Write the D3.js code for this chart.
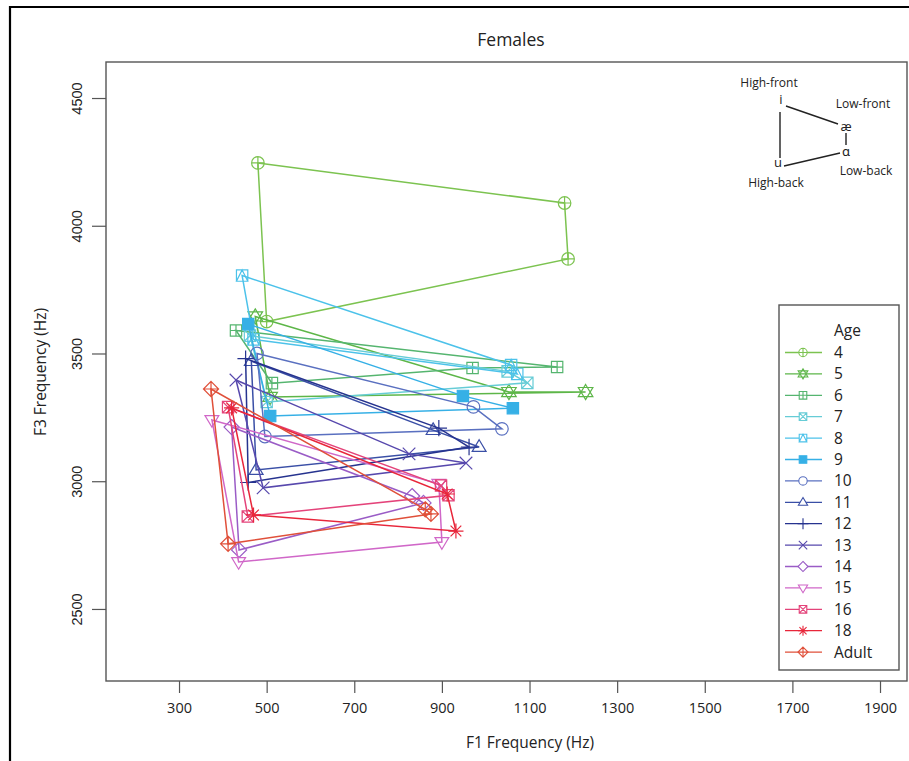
<!DOCTYPE html>
<html>
<head>
<meta charset="utf-8">
<script src="https://cdn.jsdelivr.net/npm/d3@7"></script>
<style>
  body { margin: 0; background: #fff; }
  svg { display: block; font-family: "Open Sans", "Noto Sans", sans-serif; }
</style>
</head>
<body>
<div id="chart"></div>
<script>
// Age groups, plotted oldest on top
const ages = ["4", "5", "6", "7", "8", "9", "10", "11", "12", "13", "14", "15", "16", "18", "Adult"];
const ageColors = ["#7cc350", "#5db648", "#55b56f", "#66ccd6", "#4cc2ea", "#36b0e6", "#5a70c0", "#3a4fa6",
                   "#26338f", "#5748ad", "#9a5cc6", "#d067c8", "#e4437a", "#e8263a", "#e0503a"];
const ageSymbols = ["circlePlus", "hexagram", "squarePlus", "squareX", "squareTri", "squareFilled", "circle",
                    "triangle", "plus", "cross", "diamond", "triangleDown", "squareX", "asterisk", "diamondPlus"];

// Corner vowels, in the order the quadrilateral is traced
const vowels = ["i", "æ", "ɑ", "u"];

// F1 (Hz) per age for each vowel
const f1_i  = [480, 474, 430, 462, 444, 458, 478, 465, 452, 430, 420, 375, 412, 420, 373];
const f1_ae = [1180, 1053, 1163, 1050, 1058, 948, 972, 880, 893, 825, 832, 893, 898, 912, 862];
const f1_a  = [1188, 1228, 970, 1095, 1072, 1062, 1037, 985, 962, 955, 858, 900, 915, 932, 875];
const f1_u  = [500, 508, 512, 500, 470, 508, 496, 476, 458, 492, 437, 436, 457, 470, 412];

// F3 (Hz) per age for each vowel
const f3_i  = [4246, 3645, 3590, 3570, 3805, 3615, 3500, 3470, 3480, 3396, 3212, 3240, 3290, 3287, 3361];
const f3_ae = [4089, 3349, 3447, 3430, 3455, 3334, 3291, 3200, 3208, 3107, 2942, 2990, 2983, 2950, 2890];
const f3_a  = [3870, 3349, 3443, 3385, 3420, 3286, 3205, 3134, 3134, 3071, 2915, 2762, 2945, 2805, 2872];
const f3_u  = [3625, 3330, 3384, 3310, 3555, 3255, 3175, 3044, 2995, 2974, 2731, 2684, 2862, 2868, 2755];

const xTicks = [300, 500, 700, 900, 1100, 1300, 1500, 1700, 1900];
const yTicks = [2500, 3000, 3500, 4000, 4500];

const W = 909, H = 761;
const plot = { left: 106, right: 907, top: 62, bottom: 681 };

const svg = d3.select("#chart").append("svg").attr("width", W).attr("height", H);

// outer frame
svg.append("path")
  .attr("d", `M10,${H} V7 H${W}`)
  .attr("fill", "none").attr("stroke", "#000").attr("stroke-width", 2.2);

const x = d3.scaleLinear().domain([133.3, 1961.6]).range([plot.left, plot.right]);
const y = d3.scaleLinear().domain([2218, 4641]).range([plot.bottom, plot.top]);

// plot box
svg.append("rect")
  .attr("x", plot.left).attr("y", plot.top)
  .attr("width", plot.right - plot.left).attr("height", plot.bottom - plot.top)
  .attr("fill", "none").attr("stroke", "#555").attr("stroke-width", 1.4);

// axes
const xAxis = svg.append("g").attr("transform", `translate(0,${plot.bottom})`)
  .call(d3.axisBottom(x).tickValues(xTicks).tickSize(12).tickPadding(10).tickFormat(d3.format("d")));
xAxis.select(".domain").remove();
xAxis.selectAll("line").attr("stroke", "#555").attr("stroke-width", 1.2);
xAxis.selectAll("text").attr("font-size", 14.5).attr("fill", "#222")
  .attr("font-family", "'Open Sans', sans-serif");

const yAxis = svg.append("g").attr("transform", `translate(${plot.left},0)`)
  .call(d3.axisLeft(y).tickValues(yTicks).tickSize(14).tickFormat(d3.format("d")));
yAxis.select(".domain").remove();
yAxis.selectAll("line").attr("stroke", "#555").attr("stroke-width", 1.2);
yAxis.selectAll("text")
  .attr("font-size", 14.5).attr("fill", "#222")
  .attr("text-anchor", "middle").attr("dy", null).attr("x", null)
  .attr("transform", "translate(-29,0) rotate(-90)")
  .attr("dominant-baseline", "central");

// titles
svg.append("text").attr("x", 511).attr("y", 46).attr("text-anchor", "middle")
  .attr("font-size", 17.5).attr("fill", "#222").text("Females");
svg.append("text").attr("x", 530).attr("y", 748).attr("text-anchor", "middle")
  .attr("font-size", 15.5).attr("fill", "#222").text("F1 Frequency (Hz)");
svg.append("text").attr("transform", "translate(40,372) rotate(-90)").attr("text-anchor", "middle")
  .attr("dominant-baseline", "central")
  .attr("font-size", 15.5).attr("fill", "#222").text("F3 Frequency (Hz)");

// symbol drawing in the style of R plotting characters
function symbolPath(kind, r) {
  const p = d3.path();
  const sq = r * 0.9;
  const circle = rr => { p.moveTo(rr, 0); p.arc(0, 0, rr, 0, 2 * Math.PI); };
  const square = s => { p.rect(-s, -s, 2 * s, 2 * s); };
  const seg = (x1, y1, x2, y2) => { p.moveTo(x1, y1); p.lineTo(x2, y2); };
  const tri = (s, dir) => {
    const h = s * 1.15;
    p.moveTo(0, -dir * h); p.lineTo(s * 1.1, dir * h * 0.6); p.lineTo(-s * 1.1, dir * h * 0.6); p.closePath();
  };
  const diamond = s => { p.moveTo(0, -s); p.lineTo(s, 0); p.lineTo(0, s); p.lineTo(-s, 0); p.closePath(); };
  switch (kind) {
    case "circlePlus": circle(r); seg(-r, 0, r, 0); seg(0, -r, 0, r); break;
    case "hexagram": tri(r * 1.05, 1); tri(r * 1.05, -1); break;
    case "squarePlus": square(sq); seg(-sq, 0, sq, 0); seg(0, -sq, 0, sq); break;
    case "squareX": square(sq); seg(-sq, -sq, sq, sq); seg(-sq, sq, sq, -sq); break;
    case "squareTri": square(sq); p.moveTo(0, -sq); p.lineTo(sq, sq); p.lineTo(-sq, sq); p.closePath(); break;
    case "squareFilled": square(sq); break;
    case "circle": circle(r); break;
    case "triangle": tri(r, 1); break;
    case "triangleDown": tri(r, -1); break;
    case "plus": seg(-r * 1.3, 0, r * 1.3, 0); seg(0, -r * 1.3, 0, r * 1.3); break;
    case "cross": seg(-r, -r, r, r); seg(-r, r, r, -r); break;
    case "asterisk":
      seg(-r * 1.2, 0, r * 1.2, 0); seg(0, -r * 1.2, 0, r * 1.2);
      seg(-r * 0.85, -r * 0.85, r * 0.85, r * 0.85); seg(-r * 0.85, r * 0.85, r * 0.85, -r * 0.85); break;
    case "diamond": diamond(r * 1.2); break;
    case "diamondPlus": diamond(r * 1.2); seg(-r * 1.2, 0, r * 1.2, 0); seg(0, -r * 1.2, 0, r * 1.2); break;
  }
  return p.toString();
}

// build one quadrilateral per age
const groups = ages.map((age, k) => ({
  age, color: ageColors[k], symbol: ageSymbols[k],
  points: [
    { v: vowels[0], f1: f1_i[k], f3: f3_i[k] },
    { v: vowels[1], f1: f1_ae[k], f3: f3_ae[k] },
    { v: vowels[2], f1: f1_a[k], f3: f3_a[k] },
    { v: vowels[3], f1: f1_u[k], f3: f3_u[k] }
  ]
}));

const line = d3.line().x(d => x(d.f1)).y(d => y(d.f3)).curve(d3.curveLinearClosed);

const series = svg.append("g").selectAll("g").data(groups).join("g");
series.append("path")
  .attr("d", d => line(d.points))
  .attr("fill", "none").attr("stroke", d => d.color).attr("stroke-width", 1.5);
series.selectAll("path.pt").data(d => d.points.map(p => ({ ...p, g: d }))).join("path")
  .attr("class", "pt")
  .attr("transform", d => `translate(${x(d.f1)},${y(d.f3)})`)
  .attr("d", d => symbolPath(d.g.symbol, 6.3))
  .attr("fill", d => d.g.symbol === "squareFilled" ? d.g.color : "none")
  .attr("stroke", d => d.g.color).attr("stroke-width", 1.2);

// legend
const leg = { x0: 779, y0: 305, x1: 899, y1: 670, rowTop: 352.5, rowStep: 21.4 };
svg.append("rect").attr("x", leg.x0).attr("y", leg.y0)
  .attr("width", leg.x1 - leg.x0).attr("height", leg.y1 - leg.y0)
  .attr("fill", "#fff").attr("stroke", "#555").attr("stroke-width", 1.4);
svg.append("text").attr("x", 834).attr("y", 336).attr("font-size", 15.5).attr("fill", "#222").text("Age");
const rows = svg.append("g").selectAll("g").data(groups).join("g")
  .attr("transform", (d, k) => `translate(0,${leg.rowTop + k * leg.rowStep})`);
rows.append("line").attr("x1", 785).attr("x2", 822).attr("stroke", d => d.color).attr("stroke-width", 1.3);
rows.append("path").attr("transform", "translate(803,0)")
  .attr("d", d => symbolPath(d.symbol, 4.2))
  .attr("fill", d => d.symbol === "squareFilled" ? d.color : "#fff")
  .attr("stroke", d => d.color).attr("stroke-width", 1.1);
rows.append("text").attr("x", 834).attr("dy", "0.36em").attr("font-size", 15.5).attr("fill", "#222")
  .text(d => d.age);

// vowel-space key (top right)
const key = svg.append("g").attr("fill", "#222").attr("font-size", 12);
const keyPts = { i: [781, 104], ae: [846, 127], a: [846, 152], u: [778, 163] };
key.append("path")
  .attr("d", `M786,106 L838,124 M846,133 L846,145 M840,153 L784,166 M780,158 L780,112`)
  .attr("stroke", "#222").attr("stroke-width", 1.4).attr("fill", "none");
key.append("text").attr("x", 769).attr("y", 87).attr("text-anchor", "middle").text("High-front");
key.append("text").attr("x", keyPts.i[0]).attr("y", keyPts.i[1]).attr("text-anchor", "middle").attr("font-size", 13).text("i");
key.append("text").attr("x", 863).attr("y", 108).attr("text-anchor", "middle").text("Low-front");
key.append("text").attr("x", keyPts.ae[0]).attr("y", keyPts.ae[1] + 4).attr("text-anchor", "middle").attr("font-size", 13).text("æ");
key.append("text").attr("x", keyPts.a[0]).attr("y", keyPts.a[1] + 4).attr("text-anchor", "middle").attr("font-size", 13).text("ɑ");
key.append("text").attr("x", 866).attr("y", 175).attr("text-anchor", "middle").text("Low-back");
key.append("text").attr("x", keyPts.u[0]).attr("y", keyPts.u[1] + 4).attr("text-anchor", "middle").attr("font-size", 13).text("u");
key.append("text").attr("x", 776).attr("y", 187).attr("text-anchor", "middle").text("High-back");
</script>
</body>
</html>
